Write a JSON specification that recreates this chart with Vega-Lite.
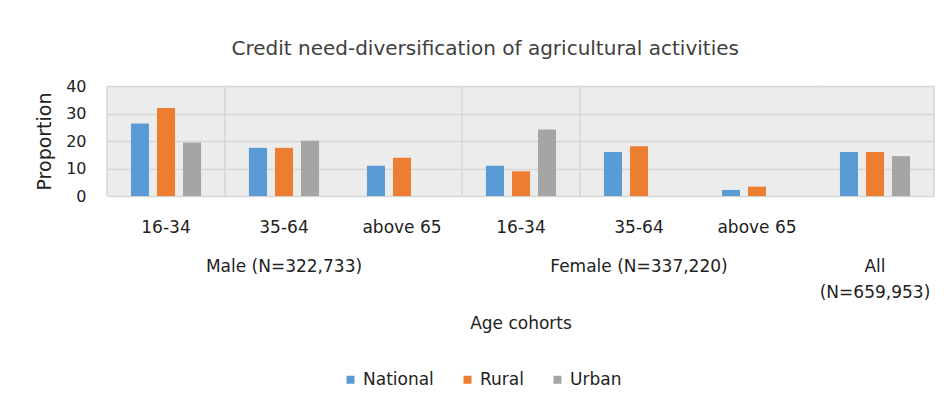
{
  "$schema": "https://vega.github.io/schema/vega-lite/v6.json",
  "padding": {"left": 35, "top": 39, "right": 10, "bottom": 5},
  "background": "white",
  "title": {"text": "Credit need-diversification of agricultural activities", "fontSize": 20, "font": "DejaVu Sans", "fontWeight": "normal", "color": "#404040", "anchor": "middle", "offset": 19},
  "data": {"values": [
    {"group": "Male (N=322,733)", "age": "16-34", "series": "National", "value": 26.4, "kind": "bar"},
    {"group": "Male (N=322,733)", "age": "16-34", "series": "Rural", "value": 32.0, "kind": "bar"},
    {"group": "Male (N=322,733)", "age": "16-34", "series": "Urban", "value": 19.5, "kind": "bar"},
    {"group": "Male (N=322,733)", "age": "35-64", "series": "National", "value": 17.5, "kind": "bar"},
    {"group": "Male (N=322,733)", "age": "35-64", "series": "Rural", "value": 17.5, "kind": "bar"},
    {"group": "Male (N=322,733)", "age": "35-64", "series": "Urban", "value": 20.1, "kind": "bar"},
    {"group": "Male (N=322,733)", "age": "above 65", "series": "National", "value": 11.0, "kind": "bar"},
    {"group": "Male (N=322,733)", "age": "above 65", "series": "Rural", "value": 13.9, "kind": "bar"},
    {"group": "Female (N=337,220)", "age": "16-34", "series": "National", "value": 11.0, "kind": "bar"},
    {"group": "Female (N=337,220)", "age": "16-34", "series": "Rural", "value": 9.0, "kind": "bar"},
    {"group": "Female (N=337,220)", "age": "16-34", "series": "Urban", "value": 24.2, "kind": "bar"},
    {"group": "Female (N=337,220)", "age": "35-64", "series": "National", "value": 16.0, "kind": "bar"},
    {"group": "Female (N=337,220)", "age": "35-64", "series": "Rural", "value": 18.1, "kind": "bar"},
    {"group": "Female (N=337,220)", "age": "above 65", "series": "National", "value": 2.2, "kind": "bar"},
    {"group": "Female (N=337,220)", "age": "above 65", "series": "Rural", "value": 3.4, "kind": "bar"},
    {"group": "All (N=659,953)", "age": "All", "series": "National", "value": 16.0, "kind": "bar"},
    {"group": "All (N=659,953)", "age": "All", "series": "Rural", "value": 16.0, "kind": "bar"},
    {"group": "All (N=659,953)", "age": "All", "series": "Urban", "value": 14.5, "kind": "bar"},
    {"group": "Male (N=322,733)", "age": "16-34", "kind": "lineStart"},
    {"group": "Male (N=322,733)", "age": "35-64", "kind": "lineStart"},
    {"group": "Female (N=337,220)", "age": "16-34", "kind": "lineStart"},
    {"group": "Female (N=337,220)", "age": "35-64", "kind": "lineStart"},
    {"group": "All (N=659,953)", "age": "All", "kind": "lineEnd"}
  ]},
  "facet": {
    "column": {
      "field": "group", "type": "nominal",
      "sort": ["Male (N=322,733)", "Female (N=337,220)", "All (N=659,953)"],
      "title": "Age cohorts",
      "header": {
        "labelOrient": "bottom", "titleOrient": "bottom",
        "labelFont": "DejaVu Sans", "labelFontSize": 17, "labelColor": "#222222",
        "labelPadding": 24, "labelLineHeight": 26, "labelBaseline": "top",
        "labelExpr": "datum.value == 'All (N=659,953)' ? ['All', '(N=659,953)'] : datum.value",
        "titleFont": "DejaVu Sans", "titleFontSize": 17, "titleFontWeight": "normal", "titleColor": "#222222",
        "titlePadding": 5
      }
    }
  },
  "spacing": 0,
  "resolve": {"scale": {"x": "independent", "xOffset": "independent"}},
  "spec": {
    "width": {"step": 118, "for": "position"},
    "height": 110,
    "layer": [
      {
        "transform": [{"filter": "datum.kind == 'bar'"}],
        "mark": {"type": "bar"},
        "encoding": {
          "x": {"field": "age", "type": "nominal", "scale": {"paddingInner": 0, "paddingOuter": 0},
            "axis": {"title": null, "labelAngle": 0, "domain": false, "ticks": false, "labelPadding": 23,
              "labelFont": "DejaVu Sans", "labelFontSize": 17, "labelColor": "#222222",
              "labelExpr": "datum.label == 'All' ? '' : datum.label"}},
          "xOffset": {"field": "series", "type": "nominal", "scale": {"domain": ["National", "Rural", "Urban"], "paddingInner": 0.3077, "paddingOuter": 0.92}},
          "y": {"field": "value", "type": "quantitative", "scale": {"domain": [0, 40]},
            "axis": {"title": "Proportion", "values": [0, 10, 20, 30, 40], "labelOverlap": false, "domain": false, "ticks": false,
              "labelPadding": 20, "labelFont": "DejaVu Sans", "labelFontSize": 16, "labelColor": "#222222",
              "titleFont": "DejaVu Sans", "titleFontSize": 19, "titleFontWeight": "normal", "titleColor": "#222222", "titlePadding": 11,
              "grid": true, "gridColor": "#d6d6d6", "gridWidth": 1.5}},
          "color": {"field": "series", "type": "nominal",
            "scale": {"domain": ["National", "Rural", "Urban"], "range": ["#5b9bd5", "#ed7d31", "#a5a5a5"]},
            "legend": {"orient": "none", "direction": "horizontal", "title": null, "legendX": 235, "legendY": 285,
              "symbolType": "square", "symbolSize": 64, "symbolStrokeWidth": 0,
              "labelFont": "DejaVu Sans", "labelFontSize": 17, "labelColor": "#222222", "columnPadding": 25}}
        }
      },
      {
        "transform": [{"filter": "datum.kind == 'lineStart'"}],
        "mark": {"type": "rule", "color": "#d6d6d6", "strokeWidth": 1.5},
        "encoding": {
          "x": {"field": "age", "type": "nominal", "bandPosition": 0},
          "y": {"datum": 0, "type": "quantitative", "axis": {"title": "Proportion", "values": [0, 10, 20, 30, 40]}},
          "y2": {"datum": 40}
        }
      },
      {
        "transform": [{"filter": "datum.kind == 'lineEnd'"}],
        "mark": {"type": "rule", "color": "#d6d6d6", "strokeWidth": 1.5},
        "encoding": {
          "x": {"field": "age", "type": "nominal", "bandPosition": 1},
          "y": {"datum": 0, "type": "quantitative", "axis": {"title": "Proportion", "values": [0, 10, 20, 30, 40]}},
          "y2": {"datum": 40}
        }
      }
    ]
  },
  "config": {
    "view": {"fill": "#ececec", "stroke": null}
  }
}
